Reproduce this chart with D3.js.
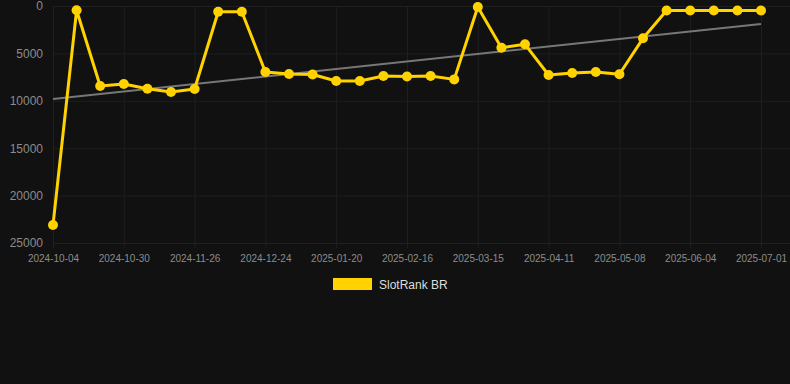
<!DOCTYPE html>
<html>
<head>
<meta charset="utf-8">
<script src="https://cdn.jsdelivr.net/npm/d3@7"></script>
<style>
  body { margin: 0; background: #111111; }
  svg { display: block; font-family: Arial, "Liberation Sans", sans-serif; }
  .grid line { stroke: #1f1f1f; stroke-width: 1; }
  .grid path { display: none; }
  .axis path, .axis line { display: none; }
  .axis text { fill: #8c8c8c; }
</style>
</head>
<body>
<svg id="chart" width="790" height="384"></svg>
<script>
// ---------------- DATA ----------------
const dates = [
  '2024-10-04', '2024-10-13', '2024-10-21', '2024-10-30', '2024-11-08', '2024-11-17',
  '2024-11-26', '2024-12-05', '2024-12-15', '2024-12-24', '2025-01-02', '2025-01-11',
  '2025-01-20', '2025-01-29', '2025-02-07', '2025-02-16', '2025-02-25', '2025-03-06',
  '2025-03-15', '2025-03-24', '2025-04-02', '2025-04-11', '2025-04-20', '2025-04-29',
  '2025-05-08', '2025-05-17', '2025-05-26', '2025-06-04', '2025-06-13', '2025-06-22',
  '2025-07-01'
]
const rankValues = [
  23100, 450, 8440, 8230, 8720, 9070,
  8760, 600, 600, 6960, 7170, 7230,
  7910, 7910, 7380, 7440, 7380, 7740,
  100, 4400, 4040, 7280, 7070, 6960,
  7200, 3410, 480, 480, 480, 480,
  480
]
const trendValues = [9800, 1900]   // start / end of the trend line
const yTicks = [0, 5000, 10000, 15000, 20000, 25000]
const xTickLabels = dates.filter((d, i) => i % 3 === 0)
const seriesName = 'SlotRank BR'

// ---------------- SETUP ----------------
const svg = d3.select('#chart')
const plotLeft = 53, plotRight = 761, plotTop = 6, plotBottom = 243
const lineColor = '#ffd200'

const xScale = d3.scalePoint().domain(dates).range([plotLeft, plotRight])
const yScale = d3.scaleLinear().domain([0, 25000]).range([plotTop, plotBottom])

// horizontal grid
svg.append('g')
  .attr('class', 'grid')
  .attr('transform', `translate(${plotLeft},0)`)
  .call(d3.axisLeft(yScale).tickValues(yTicks).tickSize(-(790 - plotLeft)).tickFormat(''))

// vertical grid
svg.append('g')
  .attr('class', 'grid')
  .attr('transform', `translate(0,${plotTop})`)
  .call(d3.axisBottom(xScale).tickValues(xTickLabels).tickSize(plotBottom - plotTop + 5).tickFormat(''))

// y axis labels
svg.append('g')
  .attr('class', 'axis')
  .attr('transform', `translate(${plotLeft - 10},0)`)
  .call(d3.axisLeft(yScale).tickValues(yTicks).tickSize(0).tickPadding(0).tickFormat(d3.format('d')))
  .selectAll('text')
    .style('font-size', '12px')

// x axis labels
svg.append('g')
  .attr('class', 'axis')
  .attr('transform', `translate(0,${plotBottom + 6})`)
  .call(d3.axisBottom(xScale).tickValues(xTickLabels).tickSize(0).tickPadding(6))
  .selectAll('text')
    .style('font-size', '10px')

// trend line
svg.append('line')
  .attr('x1', xScale(dates[0]))
  .attr('y1', yScale(trendValues[0]))
  .attr('x2', xScale(dates[dates.length - 1]))
  .attr('y2', yScale(trendValues[1]))
  .attr('stroke', '#777777')
  .attr('stroke-width', 2)

// series line
const line = d3.line()
  .x((d, i) => xScale(dates[i]))
  .y((d) => yScale(d))

svg.append('path')
  .datum(rankValues)
  .attr('d', line)
  .attr('fill', 'none')
  .attr('stroke', lineColor)
  .attr('stroke-width', 3)
  .attr('stroke-linejoin', 'round')

// points
svg.selectAll('.dot')
  .data(rankValues)
  .enter()
  .append('circle')
  .attr('class', 'dot')
  .attr('cx', (d, i) => xScale(dates[i]))
  .attr('cy', (d) => yScale(d))
  .attr('r', 5)
  .attr('fill', lineColor)

// legend
const legend = svg.append('g').attr('transform', 'translate(333,278)')
legend.append('rect')
  .attr('width', 39).attr('height', 12)
  .attr('fill', lineColor)
legend.append('text')
  .attr('x', 46).attr('y', 10.5)
  .attr('fill', '#dddddd')
  .style('font-size', '12px')
  .text(seriesName)
</script>
</body>
</html>
